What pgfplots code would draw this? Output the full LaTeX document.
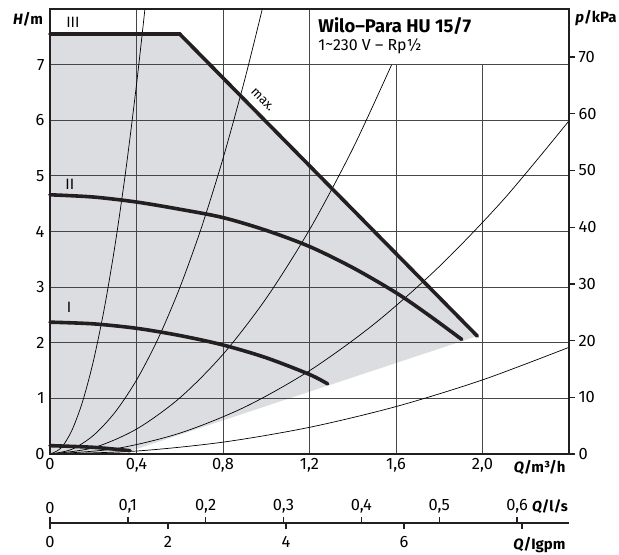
\documentclass[border=0pt]{standalone}
\usepackage{pgfplots}
\pgfplotsset{compat=1.18}
\usepackage{fontspec}
\setmainfont{Fira Sans}
\definecolor{fillgray}{RGB}{220,221,224}
\definecolor{gridgray}{RGB}{70,70,70}
\definecolor{ink}{RGB}{35,31,32}
\pgfplotsset{tick label style={font=\fontsize{16.5}{18}\selectfont}}
\begin{document}
\begin{tikzpicture}[font=\fontsize{16}{18}\selectfont]
\begin{axis}[
  name=main, at={(0,0)}, anchor=south west,
  scale only axis, width=519bp, height=445bp,
  xmin=0, xmax=2.4, ymin=0, ymax=8,
  clip=false,
  axis line style={draw=none},
  tick style={draw=none},
  xtick={0,0.4,0.8,1.2,1.6,2.0},
  xticklabels={0,{0,4},{0,8},{1,2},{1,6},{2,0}},
  ytick={0,1,2,3,4,5,6,7},
  yticklabels={0,1,2,3,4,5,6,7},
  xticklabel style={yshift=-1bp},
  yticklabel style={xshift=-2bp},
]
% grey operating area
\addplot[draw=none, fill=fillgray] coordinates {
 (0,0) (0,7.55) (0.6,7.55) (1.976,2.12) (0.37,0.05) (0.3,0) (0,0)};
% grid
\draw[gridgray, line width=1bp]
  (axis cs:0,1)--(axis cs:2.4,1) (axis cs:0,2)--(axis cs:2.4,2)
  (axis cs:0,3)--(axis cs:2.4,3) (axis cs:0,4)--(axis cs:2.4,4)
  (axis cs:0,5)--(axis cs:2.4,5) (axis cs:0,6)--(axis cs:2.4,6)
  (axis cs:0,7)--(axis cs:2.4,7)
  (axis cs:0.4,0)--(axis cs:0.4,8) (axis cs:0.8,0)--(axis cs:0.8,8)
  (axis cs:1.2,0)--(axis cs:1.2,8) (axis cs:1.6,0)--(axis cs:1.6,7)
  (axis cs:2.0,0)--(axis cs:2.0,7);
% system curves
\addplot[black, line width=0.7bp, smooth] coordinates {
 (0,0) (0.05,0.104) (0.1,0.415) (0.15,0.934) (0.2,1.66) (0.25,2.594) (0.3,3.735) (0.35,5.084) (0.4,6.64) (0.439,8.0)};
\addplot[black, line width=0.7bp, smooth] coordinates {
 (0,0) (0.1,0.083) (0.2,0.332) (0.3,0.747) (0.4,1.328) (0.5,2.075) (0.6,2.988) (0.7,4.067) (0.8,5.312) (0.9,6.723) (0.9817,8.0)};
\addplot[black, line width=0.7bp, smooth] coordinates {
 (0,0) (0.2,0.112) (0.4,0.448) (0.6,1.008) (0.8,1.792) (1.0,2.8) (1.2,4.032) (1.4,5.488) (1.58,7.0)};
\addplot[black, line width=0.7bp, smooth] coordinates {
 (0,0) (0.3,0.0936) (0.6,0.3744) (0.9,0.8424) (1.2,1.4976) (1.5,2.34) (1.8,3.3696) (2.1,4.5864) (2.4,5.99)};
\addplot[black, line width=0.7bp, smooth] coordinates {
 (0,0) (0.4,0.0533) (0.8,0.2131) (1.2,0.4795) (1.6,0.8525) (2.0,1.332) (2.4,1.918)};
% pump curves
\addplot[ink, line width=3.6bp, line cap=round, smooth] coordinates {
 (0,0.15) (0.2,0.12) (0.37,0.06)};
\addplot[ink, line width=3.6bp, line cap=round, smooth] coordinates {
 (0,2.37) (0.2,2.34) (0.4,2.26) (0.6,2.13) (0.8,1.96) (1.0,1.73) (1.2,1.43) (1.284,1.26)};
\addplot[ink, line width=3.6bp, line cap=round, smooth] coordinates {
 (0,4.66) (0.2,4.62) (0.4,4.53) (0.6,4.40) (0.8,4.25) (1.0,4.02) (1.2,3.73) (1.4,3.35) (1.6,2.90) (1.75,2.50) (1.904,2.06)};
\addplot[ink, line width=3.6bp, line cap=round, line join=miter] coordinates {
 (0,7.55) (0.6,7.55) (1.976,2.12)};
% labels on curves
\node[font=\fontsize{15}{17}\selectfont] at (axis cs:0.106,7.76) {III};
\node[font=\fontsize{15}{17}\selectfont] at (axis cs:0.092,4.84) {II};
\node[font=\fontsize{15}{17}\selectfont] at (axis cs:0.088,2.63) {I};
\node[rotate=-45.4, inner sep=0pt, font=\fontsize{13}{15}\selectfont] at (axis cs:0.983,6.37) {max.};
% title box
\draw[gridgray, line width=1bp, fill=white] (axis cs:1.2,7) rectangle (axis cs:2.4,8);
\node[anchor=west, font=\fontsize{18.5}{20}\selectfont\bfseries] at (axis cs:1.225,7.70) {Wilo–Para HU 15/7};
\node[anchor=west, font=\fontsize{16}{18}\selectfont] at (axis cs:1.225,7.33) {1\raisebox{0.1ex}{\char"007E}230 V – Rp½};
% frame
\draw[ink, line width=2.5bp, line cap=rect] (axis cs:0,8)--(axis cs:0,0)--(axis cs:2.4,0)--(axis cs:2.4,8);
\draw[ink, line width=1.3bp] (axis cs:0,8)--(axis cs:2.4,8);
\end{axis}
% right pressure axis
\begin{axis}[
  at={(0,0)}, anchor=south west,
  scale only axis, width=519bp, height=445bp,
  xmin=0, xmax=2.4, ymin=0, ymax=78.48,
  axis x line=none, axis y line*=right,
  axis line style={draw=none},
  ytick={0,10,20,30,40,50,60,70},
  yticklabels={0,10,20,30,40,50,60,70},
  tick align=outside, major tick length=6bp,
  tick style={ink, line width=1.3bp},
]
\addplot[draw=none] coordinates {(0,0)};
\end{axis}
% l/s scale
\begin{axis}[
  at={(0,-70bp)}, anchor=south west,
  scale only axis, width=519bp, height=1bp,
  xmin=0, xmax=0.666667, ymin=0, ymax=1,
  axis y line=none, axis x line*=top,
  axis line style={ink, line width=2bp, -},
  xtick={0,0.1,0.2,0.3,0.4,0.5,0.6},
  xticklabels={0,{0,1},{0,2},{0,3},{0,4},{0,5},{0,6}},
  tick align=outside, major tick length=6bp,
  tick style={ink, line width=1.5bp},
]
\addplot[draw=none] coordinates {(0,0)};
\end{axis}
% Igpm scale
\begin{axis}[
  at={(0,-69bp)}, anchor=south west,
  scale only axis, width=519bp, height=1bp,
  xmin=0, xmax=8.798, ymin=0, ymax=1,
  axis y line=none, axis x line*=bottom,
  axis line style={ink, line width=2bp, -},
  xtick={0,2,4,6,8},
  xticklabels={0,2,4,6,{}},
  xticklabel style={yshift=-4bp},
  tick align=outside, major tick length=6bp,
  tick style={ink, line width=1.5bp},
]
\addplot[draw=none] coordinates {(0,0)};
\end{axis}
% axis titles
\node[font=\fontsize{15}{17}\selectfont\bfseries] at (-22bp,435bp) {\textit{H}/m};
\node[font=\fontsize{15}{17}\selectfont\bfseries] at (546bp,436bp) {\textit{p}/kPa};
\node[anchor=east, font=\fontsize{15}{17}\selectfont\bfseries] at (519bp,-14bp) {\textit{Q}/m³/h};
\node[anchor=east, inner sep=1pt, font=\fontsize{14.5}{17}\selectfont\bfseries] at (519bp,-53bp) {\textit{Q}/l/s};
\node[anchor=east, font=\fontsize{15}{17}\selectfont\bfseries] at (519bp,-91bp) {\textit{Q}/Igpm};
\pgfresetboundingbox
\path[use as bounding box] (-50bp,-101bp) rectangle (569bp,454bp);
\end{tikzpicture}
\end{document}
